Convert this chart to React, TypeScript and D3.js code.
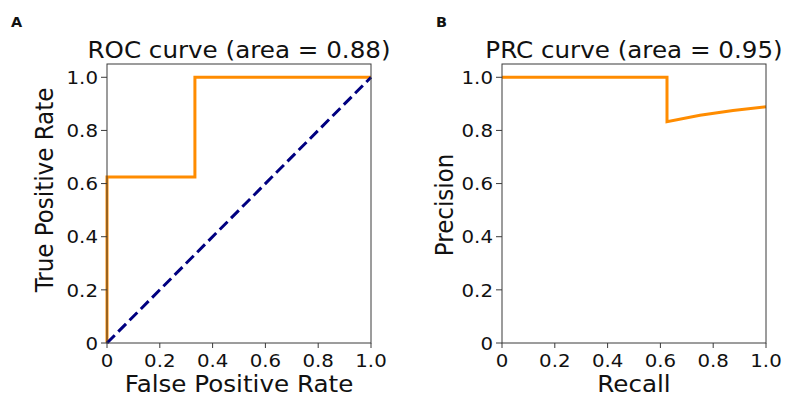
import React from "react";
import * as d3 from "d3";

const rocFpr = [0, 0, 0.333, 0.333, 1.0];
const rocTpr = [0, 0.625, 0.625, 1.0, 1.0];
const diagX = [0, 1];
const diagY = [0, 1];
const prRecall = [0, 0.625, 0.625, 0.75, 0.875, 1.0];
const prPrecision = [1.0, 1.0, 0.833, 0.857, 0.875, 0.889];
const xTicks = [0, 0.2, 0.4, 0.6, 0.8, 1.0];
const yTicks = [0, 0.2, 0.4, 0.6, 0.8, 1.0];
const fmt = (v: number) => (v === 0 ? "0" : v.toFixed(1));

const W = 792, H = 397;
const FONT = "DejaVu Sans, sans-serif";
const SX = 1.07;

function T(props: { x: number; y: number; size: number; anchor?: string; weight?: string; rotate?: boolean; dy?: string; children: React.ReactNode }) {
  const tr = `translate(${props.x},${props.y}) scale(${SX},1)${props.rotate ? " rotate(-90)" : ""}`;
  return (
    <g transform={tr}>
      <text textAnchor={props.anchor || "start"} fontFamily={FONT} fontSize={props.size}
        fontWeight={props.weight || "normal"} dy={props.dy} fill="#111">{props.children}</text>
    </g>
  );
}

type PanelProps = {
  left: number; right: number; top: number; bottom: number;
  title: string; xlabel: string; ylabel: string; letter: string; letterX: number;
  ylabelX: number; ylabelY: number;
  lines: { x: number[]; y: number[]; color: string; dash?: string; width: number }[];
};

function Panel(p: PanelProps) {
  const x = d3.scaleLinear().domain([0, 1]).range([p.left, p.right]);
  const y = d3.scaleLinear().domain([0, 1.05]).range([p.bottom, p.top]);
  const line = d3.line<[number, number]>().x(d => x(d[0])).y(d => y(d[1]));
  const cx = (p.left + p.right) / 2;
  const spine = "#3a3a3a";
  return (
    <g>
      <T x={p.letterX} y={27} size={13.5} weight="bold">{p.letter}</T>
      <T x={cx} y={58} size={23} anchor="middle">{p.title}</T>
      {p.lines.map((l, i) => (
        <path key={i} d={line(l.x.map((v, j) => [v, l.y[j]] as [number, number])) || ""}
          fill="none" stroke={l.color} strokeWidth={l.width} strokeDasharray={l.dash}
          strokeLinejoin="miter" />
      ))}
      <rect x={p.left} y={p.top} width={p.right - p.left} height={p.bottom - p.top}
        fill="none" stroke={spine} strokeWidth={1} />
      {xTicks.map(t => (
        <g key={"x" + t}>
          <line x1={x(t)} x2={x(t)} y1={p.bottom} y2={p.bottom + 5} stroke={spine} strokeWidth={1} />
          <T x={x(t)} y={367} size={18.5} anchor="middle">{fmt(t)}</T>
        </g>
      ))}
      {yTicks.map(t => (
        <g key={"y" + t}>
          <line x1={p.left - 6} x2={p.left} y1={y(t)} y2={y(t)} stroke={spine} strokeWidth={1} />
          <T x={p.left - 9} y={y(t)} size={18.5} anchor="end" dy="0.36em">{fmt(t)}</T>
        </g>
      ))}
      <T x={cx} y={392} size={23} anchor="middle">{p.xlabel}</T>
      <T x={p.ylabelX} y={p.ylabelY} size={23} anchor="middle" rotate>{p.ylabel}</T>
    </g>
  );
}

export default function App() {
  return (
    <svg width={W} height={H} style={{ position: "absolute", left: 0, top: 0, background: "#fff" }}>
      <rect width={W} height={H} fill="#fff" />
      <Panel left={107} right={371} top={64} bottom={343}
        title="ROC curve (area = 0.88)" xlabel="False Positive Rate" ylabel="True Positive Rate"
        letter="A" letterX={11} ylabelX={53} ylabelY={190}
        lines={[
          { x: rocFpr, y: rocTpr, color: "#ff8c00", width: 3 },
          { x: diagX, y: diagY, color: "#000080", width: 3, dash: "11,5" },
        ]} />
      <Panel left={502} right={766} top={64} bottom={343}
        title="PRC curve (area = 0.95)" xlabel="Recall" ylabel="Precision"
        letter="B" letterX={436} ylabelX={453} ylabelY={205}
        lines={[
          { x: prRecall, y: prPrecision, color: "#ff8c00", width: 3 },
        ]} />
    </svg>
  );
}
